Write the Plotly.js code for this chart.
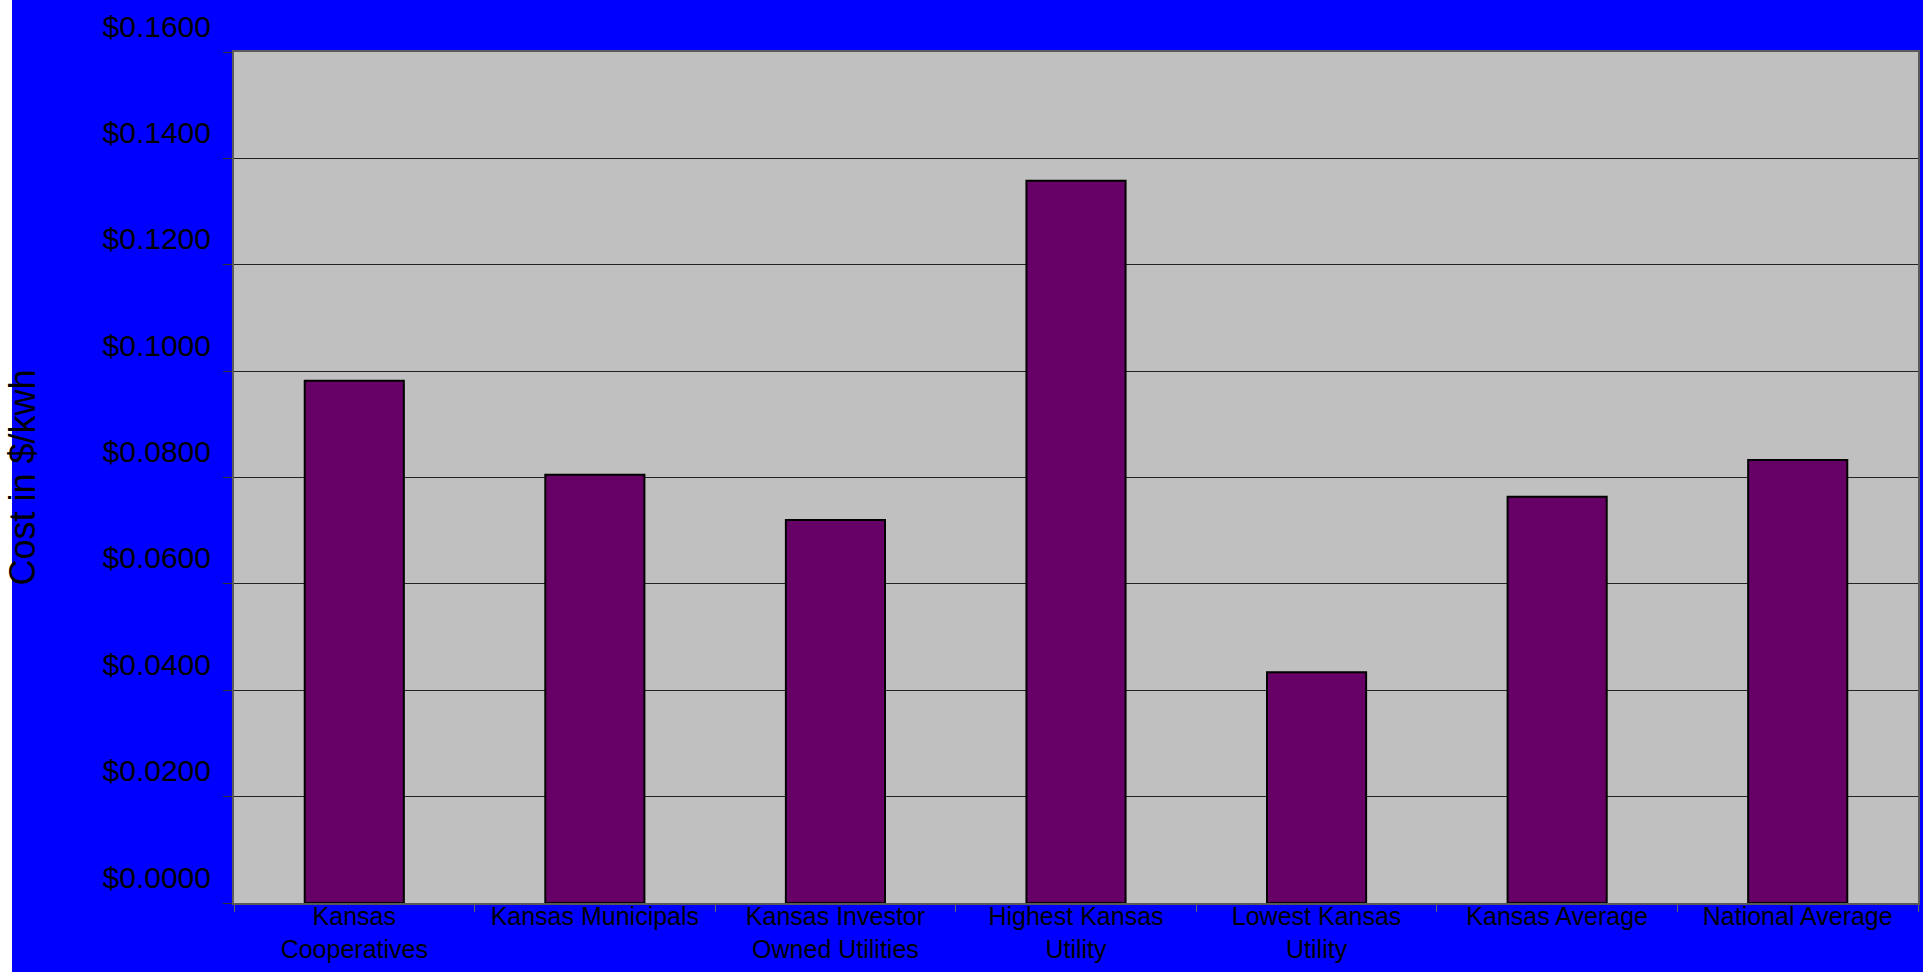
<!DOCTYPE html>
<html>
<head>
<meta charset="utf-8">
<script src="https://cdn.plot.ly/plotly-3.0.1.min.js"></script>
<style>
html,body{margin:0;padding:0;background:#ffffff;overflow:hidden;}
#chart{position:absolute;left:0;top:0;width:1923px;height:972px;}
</style>
</head>
<body>
<div id="chart"></div>
<script>
const categories = [
  "Kansas<br>Cooperatives",
  "Kansas Municipals",
  "Kansas Investor<br>Owned Utilities",
  "Highest Kansas<br>Utility",
  "Lowest Kansas<br>Utility",
  "Kansas Average",
  "National Average"
];
const costPerKwh = [0.0982, 0.0805, 0.0720, 0.1358, 0.0434, 0.0764, 0.0833];
const yTitle = "Cost in $/kwh";

const trace = {
  type: "bar",
  x: categories,
  y: costPerKwh,
  marker: {color: "#660066", line: {color: "#000000", width: 2}},
  hoverinfo: "x+y"
};

// plot area spans 234..1918 px horizontally, 52..903 px vertically
const plotW = 1923 - 234 - 5;
const plotH = 972 - 52 - 69;

const layout = {
  width: 1923,
  height: 972,
  paper_bgcolor: "#0000ff",
  plot_bgcolor: "#c0c0c0",
  margin: {l: 234, r: 5, t: 52, b: 69},
  bargap: 0.588,
  showlegend: false,
  font: {family: "Liberation Sans, Arial, sans-serif", color: "#000000"},
  shapes: [{
    type: "rect", xref: "paper", yref: "paper", layer: "below",
    x0: -234 / plotW, x1: -222 / plotW,
    y0: -80 / plotH, y1: 1 + 60 / plotH,
    fillcolor: "#ffffff", line: {width: 0}
  }],
  xaxis: {
    type: "category",
    tickson: "boundaries",
    ticks: "outside",
    ticklen: 7,
    tickwidth: 1,
    tickcolor: "#666666",
    showline: true,
    linecolor: "#5a5a5a",
    linewidth: 2,
    mirror: true,
    showgrid: false,
    tickangle: 0,
    tickfont: {size: 25, color: "#000000"},
    ticklabelstandoff: -10
  },
  yaxis: {
    range: [0, 0.16],
    dtick: 0.02,
    tick0: 0,
    tickformat: "$.4f",
    ticks: "outside",
    ticklen: 9,
    tickwidth: 1,
    tickcolor: "#333333",
    showline: true,
    linecolor: "#5a5a5a",
    linewidth: 2,
    mirror: true,
    showgrid: true,
    gridcolor: "#222222",
    gridwidth: 1,
    zeroline: false,
    tickfont: {size: 30, color: "#000000"},
    ticklabelshift: -26,
    ticklabelstandoff: 6,
    title: {text: yTitle, font: {size: 36, color: "#000000"}, standoff: 56}
  }
};

Plotly.newPlot("chart", [trace], layout, {displayModeBar: false, staticPlot: true});
</script>
</body>
</html>
